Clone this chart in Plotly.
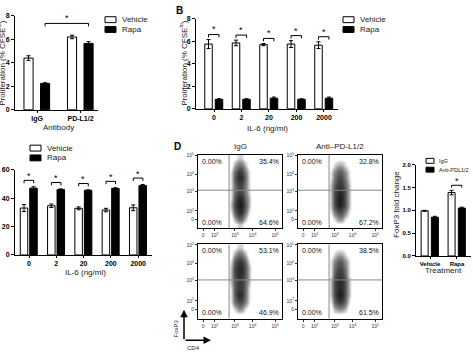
import plotly.graph_objects as go

W, H = 473, 356
FONT = "Liberation Sans, Arial, sans-serif"

# ---------------- data ----------------
a_categories = ["IgG", "PD-L1/2"]
a_vehicle = [4.4, 6.2]
a_vehicle_err = [0.2, 0.15]
a_rapa = [2.25, 5.65]
a_rapa_err = [0.06, 0.15]

b_categories = ["0", "2", "20", "200", "2000"]
b_vehicle = [5.75, 5.85, 5.7, 5.75, 5.65]
b_vehicle_err = [0.4, 0.25, 0.1, 0.3, 0.3]
b_rapa = [0.85, 0.85, 0.95, 0.85, 0.95]
b_rapa_err = [0.05, 0.05, 0.1, 0.05, 0.1]

c_categories = ["0", "2", "20", "200", "2000"]
c_vehicle = [33.0, 34.6, 32.8, 31.6, 33.2]
c_vehicle_err = [2.5, 1.2, 1.0, 1.2, 2.0]
c_rapa = [47.0, 46.0, 45.5, 46.8, 48.8]
c_rapa_err = [1.0, 0.5, 0.3, 0.5, 0.8]

d_categories = ["Vehicle", "Rapa"]
d_igg = [0.99, 1.39]
d_igg_err = [0.01, 0.05]
d_anti = [0.85, 1.05]
d_anti_err = [0.02, 0.02]

flow_x_ticks = [6, 20, 44, 65, 92]
flow_x_labels = ["0", "10<sup>2</sup>", "10<sup>3</sup>", "10<sup>4</sup>", "10<sup>5</sup>"]
flow_y_ticks = [12, 24, 51, 74, 99]
flow_y_labels = ["0", "10<sup>2</sup>", "10<sup>3</sup>", "10<sup>4</sup>", "10<sup>5</sup>"]
flow_gate_x = 37
flow_gate_y = 52
flow_grid_x = [36, 40, 44, 48, 52, 56, 60, 64, 68]
flow_grid_y = [5, 14, 23, 32, 41, 50, 59, 68, 77, 86, 95]

flow_titles = ["IgG", "Anti–PD-L1/2"]
# quadrant percentages: [UL, UR, LL, LR]
flow_igg_top_pct = ["0.00%", "35.4%", "0.00%", "64.6%"]
flow_anti_top_pct = ["0.00%", "32.8%", "0.00%", "67.2%"]
flow_igg_bot_pct = ["0.00%", "53.1%", "0.00%", "46.9%"]
flow_anti_bot_pct = ["0.00%", "38.5%", "0.00%", "61.5%"]

# estimated event density, rows from bottom (y=5) to top (y=95)
flow_igg_top_density = [
    [0, 0, 0, 1, 1, 0, 0, 0, 0],
    [0, 0, 2, 5, 5, 2, 0, 0, 0],
    [0, 1, 5, 8, 8, 5, 1, 0, 0],
    [0, 2, 6, 9, 9, 6, 2, 0, 0],
    [0, 1, 5, 8, 8, 5, 2, 0, 0],
    [0, 1, 4, 6, 6, 4, 1, 0, 0],
    [0, 1, 4, 6, 6, 4, 1, 0, 0],
    [0, 1, 5, 8, 8, 5, 1, 0, 0],
    [0, 1, 4, 7, 7, 4, 1, 0, 0],
    [0, 0, 2, 4, 4, 2, 0, 0, 0],
    [0, 0, 0, 1, 1, 0, 0, 0, 0],
]
flow_anti_top_density = [
    [0, 0, 0, 0, 0, 0, 0, 0, 0],
    [0, 0, 1, 3, 3, 1, 0, 0, 0],
    [0, 1, 4, 6, 6, 4, 1, 0, 0],
    [0, 2, 6, 9, 8, 6, 2, 0, 0],
    [0, 2, 6, 9, 9, 6, 2, 0, 0],
    [0, 2, 6, 8, 8, 6, 2, 0, 0],
    [0, 2, 5, 7, 7, 5, 2, 0, 0],
    [0, 1, 4, 6, 6, 4, 1, 0, 0],
    [0, 1, 3, 5, 5, 3, 1, 0, 0],
    [0, 0, 1, 2, 2, 1, 0, 0, 0],
    [0, 0, 0, 0, 0, 0, 0, 0, 0],
]
flow_igg_bot_density = [
    [0, 0, 0, 0, 0, 0, 0, 0, 0],
    [0, 0, 1, 3, 3, 1, 0, 0, 0],
    [0, 1, 4, 6, 6, 4, 1, 0, 0],
    [0, 1, 5, 8, 8, 5, 1, 0, 0],
    [0, 1, 5, 7, 7, 5, 1, 0, 0],
    [0, 2, 5, 7, 7, 5, 2, 0, 0],
    [0, 2, 6, 8, 8, 6, 2, 0, 0],
    [0, 2, 6, 8, 8, 6, 2, 0, 0],
    [0, 1, 5, 7, 7, 5, 1, 0, 0],
    [0, 0, 2, 4, 4, 2, 0, 0, 0],
    [0, 0, 0, 1, 1, 0, 0, 0, 0],
]
flow_anti_bot_density = [
    [0, 0, 0, 0, 0, 0, 0, 0, 0],
    [0, 0, 2, 3, 3, 2, 0, 0, 0],
    [0, 1, 5, 7, 7, 5, 1, 0, 0],
    [0, 2, 6, 9, 9, 6, 2, 0, 0],
    [0, 2, 6, 8, 8, 6, 2, 0, 0],
    [0, 2, 6, 8, 8, 6, 2, 0, 0],
    [0, 1, 5, 7, 7, 5, 1, 0, 0],
    [0, 1, 4, 6, 6, 4, 1, 0, 0],
    [0, 1, 3, 5, 5, 3, 1, 0, 0],
    [0, 0, 1, 2, 2, 1, 0, 0, 0],
    [0, 0, 0, 0, 0, 0, 0, 0, 0],
]

# ---------------- helpers ----------------
def px(x):
    return x / W

def py(y):
    return 1 - y / H

def bold(labels):
    return [f"<b>{l}</b>" for l in labels]

fig = go.Figure()
shapes = []
annos = []

def bar_pair(ax, cats, v1, e1, v2, e2, off1, off2, width):
    xs = list(range(len(cats)))
    xa = "x" if ax == 1 else f"x{ax}"
    ya = "y" if ax == 1 else f"y{ax}"
    fig.add_trace(go.Bar(x=xs, y=v1, offset=off1, width=width, xaxis=xa, yaxis=ya,
                         marker=dict(color="white", line=dict(color="black", width=1)),
                         error_y=dict(type="data", array=e1, color="black", thickness=1, width=2),
                         showlegend=False))
    fig.add_trace(go.Bar(x=xs, y=v2, offset=off2, width=width, xaxis=xa, yaxis=ya,
                         marker=dict(color="black", line=dict(color="black", width=1)),
                         error_y=dict(type="data", array=e2, color="black", thickness=1, width=2),
                         showlegend=False))

def bracket(ax, x1, x2, y, drop, star_gap):
    xa = "x" if ax == 1 else f"x{ax}"
    ya = "y" if ax == 1 else f"y{ax}"
    shapes.append(dict(type="path", xref=xa, yref=ya,
                       path=f"M {x1},{y-drop} L {x1},{y} L {x2},{y} L {x2},{y-drop}",
                       line=dict(color="black", width=1)))
    annos.append(dict(x=(x1 + x2) / 2, y=y + star_gap, xref=xa, yref=ya, text="*",
                      showarrow=False, font=dict(size=9, family=FONT, color="black"),
                      yanchor="middle"))

def legend_box(x, y, fill, label, size=8, bw=11, bh=6, gap=4):
    shapes.append(dict(type="rect", xref="paper", yref="paper",
                       x0=px(x), x1=px(x + bw), y0=py(y + bh / 2), y1=py(y - bh / 2),
                       fillcolor=fill, line=dict(color="black", width=1)))
    annos.append(dict(x=px(x + bw + gap), y=py(y), xref="paper", yref="paper", text=label,
                      showarrow=False, xanchor="left", yanchor="middle",
                      font=dict(size=size, family=FONT, color="#222")))

def text(x, y, t, size=8, angle=0, is_bold=False, xanchor="center", color="#222"):
    annos.append(dict(x=px(x), y=py(y), xref="paper", yref="paper",
                      text=f"<b>{t}</b>" if is_bold else t, showarrow=False,
                      textangle=angle, xanchor=xanchor, yanchor="middle",
                      font=dict(size=size, family=FONT, color=color)))

lay = {}

def bar_axes(ax, xdom, ydom, xr, yr, cats, ytickvals, ylabels, fsize=7):
    xk = "xaxis" if ax == 1 else f"xaxis{ax}"
    yk = "yaxis" if ax == 1 else f"yaxis{ax}"
    ya = "y" if ax == 1 else f"y{ax}"
    xa = "x" if ax == 1 else f"x{ax}"
    tf = dict(size=fsize, family=FONT, color="black")
    lay[xk] = dict(domain=[px(xdom[0]), px(xdom[1])], range=xr, anchor=ya,
                   tickvals=list(range(len(cats))), ticktext=bold(cats), tickfont=tf,
                   showline=True, linecolor="black", linewidth=1, ticks="outside",
                   ticklen=2, tickcolor="black", showgrid=False, zeroline=False,
                   fixedrange=True)
    lay[yk] = dict(domain=[py(ydom[1]), py(ydom[0])], range=yr, anchor=xa,
                   tickvals=ytickvals, ticktext=bold(ylabels), tickfont=tf,
                   showline=True, linecolor="black", linewidth=1, ticks="outside",
                   ticklen=3, tickcolor="black", showgrid=False, zeroline=False,
                   fixedrange=True)

# ---------------- Panel A ----------------
bar_pair(1, a_categories, a_vehicle, a_vehicle_err, a_rapa, a_rapa_err, -0.30, 0.08, 0.21)
bar_axes(1, (15, 98), (12, 108), [-0.506, 1.402], [0, 8], a_categories,
         [0, 2, 4, 6, 8], ["0", "2", "4", "6", "8"])
a_top = max(v + e for v, e in zip(a_rapa + a_vehicle, a_rapa_err + a_vehicle_err))
bracket(1, 0.08 + 0.105, 1.08 + 0.105, a_top + 1.0, 0.25, 0.45)
legend_box(105, 16, "white", "Vehicle")
legend_box(105, 26, "black", "Rapa")
text(58, 126, "Antibody", 8)
text(1, 60, "Proliferation (% CFSE<sup>lo</sup>)", 8, angle=-90)

# ---------------- Panel B ----------------
bar_pair(2, b_categories, b_vehicle, b_vehicle_err, b_rapa, b_rapa_err, -0.336, 0.045, 0.273)
bar_axes(2, (196, 338), (15, 107), [-0.655, 4.51], [0, 8], b_categories,
         [0, 2, 4, 6, 8], ["0", "2", "4", "6", "8"])
for i in range(len(b_categories)):
    top = max(b_vehicle[i] + b_vehicle_err[i], b_rapa[i] + b_rapa_err[i])
    bracket(2, i - 0.2, i + 0.18, top + 0.45, 0.25, 0.45)
legend_box(343, 16, "white", "Vehicle")
legend_box(343, 26, "black", "Rapa")
text(267, 127, "IL-6 (ng/ml)", 8)
text(183, 60, "Proliferation (% CFSE<sup>lo</sup>)", 8, angle=-90)
text(179, 7, "B", 10, is_bold=True, color="black")

# ---------------- Panel C ----------------
bar_pair(3, c_categories, c_vehicle, c_vehicle_err, c_rapa, c_rapa_err, -0.32, 0.027, 0.275)
bar_axes(3, (15, 152), (169, 256), [-0.513, 4.505], [0, 60], c_categories,
         [0, 20, 40, 60], ["0", "20", "40", "60"])
for i in range(len(c_categories)):
    top = max(c_vehicle[i] + c_vehicle_err[i], c_rapa[i] + c_rapa_err[i])
    bracket(3, i - 0.18, i + 0.17, top + 4.5, 2.0, 3.2)
legend_box(30, 147, "white", "Vehicle")
legend_box(30, 157, "black", "Rapa")
text(85, 274, "IL-6 (ng/ml)", 8)

# ---------------- Panel D: flow plots ----------------
flow_boxes = [
    ((198, 282), (154, 229), flow_igg_top_density, flow_igg_top_pct),
    ((298, 382), (154, 229), flow_anti_top_density, flow_anti_top_pct),
    ((198, 282), (245, 321), flow_igg_bot_density, flow_igg_bot_pct),
    ((298, 382), (245, 321), flow_anti_bot_density, flow_anti_bot_pct),
]
gray = [[0, "rgba(255,255,255,0)"], [0.1, "#d4d4d4"], [0.3, "#8c8c8c"],
        [0.65, "#4a4a4a"], [1, "#1e1e1e"]]
for k, (xd, yd, dens, pct) in enumerate(flow_boxes):
    ax = 4 + k
    xa, ya = f"x{ax}", f"y{ax}"
    fig.add_trace(go.Heatmap(x=flow_grid_x, y=flow_grid_y, z=dens, xaxis=xa, yaxis=ya,
                             zmin=0, zmax=9, colorscale=gray, zsmooth="best",
                             showscale=False, hoverinfo="skip"))
    lay[f"xaxis{ax}"] = dict(domain=[px(xd[0]), px(xd[1])], range=[0, 100], anchor=ya,
                             tickvals=flow_x_ticks, ticktext=flow_x_labels,
                             tickfont=dict(size=5, family=FONT, color="#333"),
                             showline=True, mirror=True, linecolor="black", linewidth=1,
                             ticks="outside", ticklen=2, tickcolor="#333",
                             showgrid=False, zeroline=False, fixedrange=True)
    lay[f"yaxis{ax}"] = dict(domain=[py(yd[1]), py(yd[0])], range=[0, 100], anchor=xa,
                             tickvals=flow_y_ticks, ticktext=flow_y_labels,
                             tickfont=dict(size=5, family=FONT, color="#333"),
                             showline=True, mirror=True, linecolor="black", linewidth=1,
                             ticks="outside", ticklen=2, tickcolor="#333",
                             showgrid=False, zeroline=False, fixedrange=True)
    shapes.append(dict(type="line", xref=xa, yref=ya, x0=flow_gate_x, x1=flow_gate_x,
                       y0=0, y1=100, line=dict(color="#888", width=1)))
    shapes.append(dict(type="line", xref=xa, yref=ya, x0=0, x1=100,
                       y0=flow_gate_y, y1=flow_gate_y, line=dict(color="#888", width=1)))
    pf = dict(size=7, family=FONT, color="#111")
    annos.append(dict(x=2, y=99, xref=xa, yref=ya, text=pct[0], showarrow=False,
                      xanchor="left", yanchor="top", font=pf))
    annos.append(dict(x=99, y=99, xref=xa, yref=ya, text=pct[1], showarrow=False,
                      xanchor="right", yanchor="top", font=pf))
    annos.append(dict(x=2, y=1, xref=xa, yref=ya, text=pct[2], showarrow=False,
                      xanchor="left", yanchor="bottom", font=pf))
    annos.append(dict(x=99, y=1, xref=xa, yref=ya, text=pct[3], showarrow=False,
                      xanchor="right", yanchor="bottom", font=pf))

text(240, 145, flow_titles[0], 8)
text(340, 145, flow_titles[1], 8)
text(177, 145, "D", 10, is_bold=True, color="black")

# FoxP3 / CD4 axes arrows
annos.append(dict(x=px(184), y=py(312), ax=0, ay=31, xref="paper", yref="paper",
                  axref="pixel", ayref="pixel", showarrow=True, arrowhead=2,
                  arrowsize=1, arrowwidth=1.5, arrowcolor="black", text=""))
annos.append(dict(x=px(211), y=py(343), ax=-27, ay=0, xref="paper", yref="paper",
                  axref="pixel", ayref="pixel", showarrow=True, arrowhead=2,
                  arrowsize=1, arrowwidth=1.5, arrowcolor="black", text=""))
text(176, 331, "FoxP3", 6, angle=-90)
text(193, 351, "CD4", 6)

# ---------------- Panel D: fold change ----------------
bar_pair(8, d_categories, d_igg, d_igg_err, d_anti, d_anti_err, -0.33, 0.05, 0.26)
bar_axes(8, (416, 471), (164, 257), [-0.52, 1.52], [0, 2], d_categories,
         [0, 0.5, 1.0, 1.5, 2.0], ["0.0", "0.5", "1.0", "1.5", "2.0"], fsize=6)
top = max(d_igg[1] + d_igg_err[1], d_anti[1] + d_anti_err[1])
bracket(8, 1 - 0.2, 1 + 0.18, top + 0.11, 0.05, 0.09)
legend_box(426, 160, "white", "IgG", size=5.5, bw=8, bh=5, gap=3)
legend_box(426, 169, "black", "Anti-PDL1/2", size=5.5, bw=8, bh=5, gap=3)
text(443, 272, "Treatment", 8)
text(397, 205, "FoxP3 fold change", 8, angle=-90)

fig.update_layout(width=W, height=H, margin=dict(l=0, r=0, t=0, b=0),
                  paper_bgcolor="white", plot_bgcolor="rgba(0,0,0,0)",
                  barmode="overlay", showlegend=False, shapes=shapes, annotations=annos,
                  font=dict(family=FONT), **lay)

fig.write_html("out.html")
